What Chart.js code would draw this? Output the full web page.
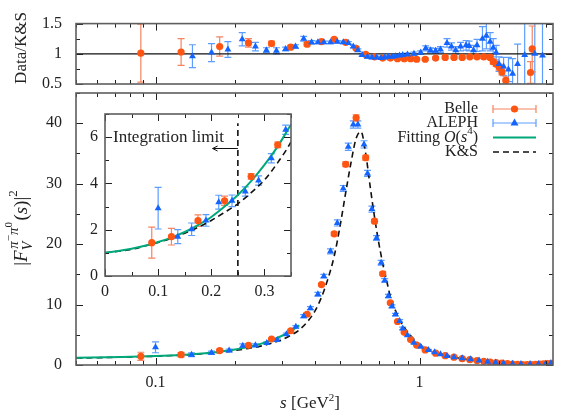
<!DOCTYPE html>
<html>
<head>
<meta charset="utf-8">
<script src="https://cdn.jsdelivr.net/npm/chart.js@4.4.1/dist/chart.umd.min.js"></script>
<style>
  html, body { margin: 0; padding: 0; background: #fff; }
  #wrap { position: relative; width: 582px; height: 419px; overflow: hidden; }
  #wrap canvas { position: absolute; left: 0; top: 0; }
</style>
</head>
<body>
<div id="wrap">
  <canvas id="ratioChart" width="582" height="419"></canvas>
  <canvas id="mainChart" width="582" height="419"></canvas>
  <canvas id="insetChart" width="582" height="419"></canvas>
</div>
<script>
// Values (s in GeV^2)
const belleS = [0.088, 0.125, 0.175, 0.225, 0.275, 0.325, 0.375, 0.425, 0.475, 0.525, 0.575, 0.625, 0.675, 0.725, 0.775, 0.825, 0.875, 0.925, 0.975, 1.05, 1.15, 1.25, 1.35, 1.45, 1.55, 1.65, 1.75, 1.85, 1.95, 2.05, 2.15, 2.25, 2.35, 2.45, 2.55, 2.65, 2.75, 2.85, 2.95, 3.05, 3.15];
const belleF = [1.44, 1.70, 2.39, 3.25, 4.30, 5.67, 8.4, 13.3, 21.7, 33.2, 40.9, 34.3, 23.8, 15.1, 10.3, 7.2, 5.4, 4.2, 3.3, 2.5, 1.95, 1.55, 1.3, 1.05, 0.88, 0.74, 0.6, 0.5, 0.4, 0.3, 0.22, 0.15, 0.1, 0.08, 0.07, 0.08, 0.1, 0.13, 0.17, 0.22, 0.28];
const belleErr = [0.67, 0.36, 0.25, 0.2, 0.12, 0.12, 0.15, 0.2, 0.3, 0.4, 0.5, 0.4, 0.3, 0.25, 0.2, 0.15, 0.12, 0.1, 0.08, 0.06, 0.06, 0.06, 0.06, 0.06, 0.06, 0.06, 0.06, 0.06, 0.06, 0.06, 0.06, 0.06, 0.06, 0.06, 0.06, 0.06, 0.06, 0.06, 0.06, 0.06, 0.06];

const alephS = [0.100, 0.137, 0.163, 0.190, 0.214, 0.239, 0.264, 0.289, 0.313, 0.340, 0.364, 0.386, 0.412, 0.434, 0.460, 0.488, 0.514, 0.537, 0.561, 0.584, 0.616, 0.635, 0.660, 0.687, 0.715, 0.738, 0.762, 0.786, 0.810, 0.840, 0.863, 0.900, 0.952, 1.01, 1.08, 1.14, 1.20, 1.27, 1.35, 1.45, 1.56, 1.68, 1.81, 1.94, 2.08, 2.25, 2.42, 2.62, 2.82, 3.0, 3.14];
const alephF = [2.93, 1.70, 2.02, 2.40, 3.19, 3.25, 3.65, 4.13, 5.09, 6.32, 8.07, 9.4, 11.7, 14.7, 18.8, 23.5, 29.2, 36.1, 39.8, 39.8, 36.5, 31.7, 25.8, 21.0, 16.9, 14.0, 11.4, 9.7, 8.35, 7.3, 6.05, 4.94, 3.67, 3.0, 2.47, 2.1, 1.76, 1.5, 1.27, 1.1, 0.94, 0.75, 0.55, 0.4, 0.28, 0.2, 0.16, 0.15, 0.16, 0.2, 0.28];
const alephErr = [0.9, 0.3, 0.27, 0.25, 0.3, 0.25, 0.2, 0.2, 0.2, 0.2, 0.25, 0.25, 0.3, 0.3, 0.4, 0.5, 0.5, 0.6, 0.6, 0.6, 0.6, 0.5, 0.5, 0.4, 0.4, 0.3, 0.3, 0.25, 0.2, 0.2, 0.2, 0.15, 0.12, 0.1, 0.1, 0.1, 0.08, 0.08, 0.07, 0.07, 0.06, 0.06, 0.05, 0.05, 0.05, 0.04, 0.04, 0.04, 0.04, 0.05, 0.05];

// O(s^4) fit, only drawn up to the integration region
const fitS = [0, 0.025, 0.05, 0.075, 0.1, 0.125, 0.15, 0.175, 0.2, 0.225, 0.25, 0.275, 0.3, 0.325, 0.35];
const fitF = [1.0, 1.08, 1.18, 1.31, 1.47, 1.66, 1.9, 2.2, 2.55, 3.0, 3.5, 4.1, 4.8, 5.6, 6.55];

// K&S curve
const ksS = [0, 0.025, 0.05, 0.075, 0.1, 0.125, 0.15, 0.175, 0.2, 0.225, 0.25, 0.275, 0.3, 0.325, 0.35, 0.375, 0.4, 0.425, 0.45, 0.475, 0.5, 0.525, 0.55, 0.575, 0.6, 0.625, 0.65, 0.675, 0.7, 0.725, 0.75, 0.775, 0.8, 0.85, 0.9, 0.95, 1.0, 1.1, 1.2, 1.3, 1.4, 1.5, 1.6, 1.8, 2.0, 2.2, 2.4, 2.6, 2.8, 3.0, 3.2];
const ksF = [1.0, 1.07, 1.15, 1.3, 1.45, 1.63, 1.85, 2.1, 2.4, 2.75, 3.12, 3.6, 4.15, 4.9, 5.8, 7.1, 8.8, 11.2, 14.3, 18.0, 23.0, 28.5, 33.5, 37.5, 38.6, 35.0, 29.5, 24.5, 20.3, 16.8, 14.0, 11.3, 9.6, 7.1, 5.5, 4.3, 3.45, 2.4, 1.8, 1.4, 1.15, 0.95, 0.8, 0.55, 0.35, 0.2, 0.12, 0.1, 0.12, 0.16, 0.2];

// Data / K&S
const belleRatioS = [0.088, 0.125, 0.175, 0.225, 0.275, 0.325, 0.375, 0.425, 0.475, 0.525, 0.575, 0.625, 0.675, 0.725, 0.775, 0.825, 0.875, 0.925, 0.975, 1.05, 1.15, 1.25, 1.35, 1.45, 1.55, 1.65, 1.75, 1.85, 1.9, 1.95, 2.0, 2.05, 2.12, 2.63, 2.67];
const belleRatio = [1.01, 1.03, 1.12, 1.18, 1.17, 1.11, 1.16, 1.20, 1.24, 1.19, 1.09, 0.99, 0.95, 0.93, 0.93, 0.92, 0.92, 0.92, 0.91, 0.91, 0.93, 0.94, 0.94, 0.94, 0.95, 0.95, 0.95, 0.94, 0.87, 0.83, 0.78, 0.70, 0.56, 0.69, 1.08];
const belleRatioErr = [0.48, 0.22, 0.16, 0.07, 0.04, 0.03, 0.03, 0.02, 0.02, 0.02, 0.02, 0.02, 0.02, 0.02, 0.02, 0.02, 0.02, 0.02, 0.02, 0.02, 0.02, 0.02, 0.02, 0.02, 0.02, 0.02, 0.03, 0.03, 0.04, 0.04, 0.05, 0.05, 0.06, 0.18, 0.38];

const alephRatioS = [0.138, 0.163, 0.188, 0.213, 0.239, 0.263, 0.287, 0.311, 0.339, 0.364, 0.39, 0.412, 0.434, 0.46, 0.488, 0.514, 0.537, 0.561, 0.584, 0.606, 0.635, 0.66, 0.687, 0.715, 0.738, 0.762, 0.786, 0.81, 0.84, 0.863, 0.9, 0.952, 1.01, 1.055, 1.1, 1.15, 1.2, 1.27, 1.32, 1.37, 1.43, 1.5, 1.54, 1.6, 1.65, 1.73, 1.79, 1.85, 1.9, 1.95, 2.0, 2.08, 2.17, 2.25, 2.35, 2.5, 2.73, 2.92];
const alephRatio = [0.96, 1.02, 1.07, 1.24, 1.12, 1.06, 1.05, 1.08, 1.12, 1.25, 1.19, 1.19, 1.19, 1.19, 1.2, 1.19, 1.18, 1.12, 1.06, 0.98, 0.95, 0.94, 0.94, 0.93, 0.94, 0.95, 0.95, 0.96, 0.97, 0.98, 0.99, 1.0, 1.02, 1.09, 1.06, 1.05, 1.07, 1.18, 1.12, 1.06, 1.12, 1.14, 1.13, 1.06, 1.14, 1.25, 1.3, 1.2, 1.1, 1.02, 0.83, 0.79, 0.74, 0.67, 0.83, 0.98, 1.0, 0.97];
const alephRatioErr = [0.19, 0.15, 0.13, 0.11, 0.07, 0.04, 0.05, 0.03, 0.03, 0.04, 0.03, 0.02, 0.02, 0.02, 0.02, 0.02, 0.02, 0.02, 0.02, 0.02, 0.02, 0.02, 0.02, 0.02, 0.02, 0.02, 0.02, 0.02, 0.02, 0.02, 0.02, 0.03, 0.03, 0.04, 0.04, 0.04, 0.05, 0.07, 0.06, 0.06, 0.07, 0.08, 0.08, 0.08, 0.1, 0.2, 0.22, 0.15, 0.15, 0.12, 0.12, 0.15, 0.2, 0.25, 0.33, 0.6, 1.0, 0.8];

// Axes
const sMin = 0.05, sMax = 3.2;
const logTicks = [0.05, 0.06, 0.07, 0.08, 0.09, 0.1, 0.2, 0.3, 0.4, 0.5, 0.6, 0.7, 0.8, 0.9, 1, 2, 3];
const logLabels = [0.1, 1];
const ratioTicks = [0.5, 0.75, 1, 1.25, 1.5];
const ratioLabels = [0.5, 1, 1.5];
const mainYTicks = [0, 5, 10, 15, 20, 25, 30, 35, 40, 45];
const mainYLabels = [0, 10, 20, 30, 40];
const insetXTicks = [0, 0.05, 0.1, 0.15, 0.2, 0.25, 0.3, 0.35];
const insetXLabels = [0, 0.1, 0.2, 0.3];
const insetYTicks = [0, 1, 2, 3, 4, 5, 6, 7];
const insetYLabels = [0, 2, 4, 6];
const cutS = 0.25, cutTop = 6.6;

const ORANGE = '#ff5512', ORANGE_ERR = '#f58460';
const BLUE = '#1464ff', BLUE_ERR = '#5c9dff';
const GREEN = '#00a87a';
const SERIF = "'Liberation Serif', 'Times New Roman', serif";

Chart.defaults.font.family = SERIF;
Chart.defaults.font.size = 16;
Chart.defaults.color = '#222';

const pts = (xs, ys) => xs.map((x, i) => ({ x, y: ys[i] }));
const positive = arr => arr.filter(p => p.x > 0);

// vertical error bars under the markers
const errorBars = {
    id: 'errorBars',
    beforeDatasetsDraw(chart) {
        const { ctx, chartArea: a } = chart;
        const xs = chart.scales.x, ys = chart.scales.y;
        ctx.save();
        ctx.beginPath();
        ctx.rect(a.left, a.top, a.right - a.left, a.bottom - a.top);
        ctx.clip();
        chart.data.datasets.forEach(ds => {
            if (!ds.errors) return;
            ctx.strokeStyle = ds.errorColor;
            ctx.lineWidth = 1.2;
            ctx.beginPath();
            ds.data.forEach((p, j) => {
                const e = ds.errors[j];
                const px = xs.getPixelForValue(p.x);
                const top = ys.getPixelForValue(p.y + e);
                const bot = ys.getPixelForValue(p.y - e);
                ctx.moveTo(px, top); ctx.lineTo(px, bot);
                ctx.moveTo(px - 3.5, top); ctx.lineTo(px + 3.5, top);
                ctx.moveTo(px - 3.5, bot); ctx.lineTo(px + 3.5, bot);
            });
            ctx.stroke();
        });
        ctx.restore();
    }
};

// gnuplot-like box with inward ticks on all four sides
function framePlugin(xTicks, xMajor, yTicks, yMajor) {
    return {
        id: 'frame',
        afterDatasetsDraw(chart) {
            const { ctx, chartArea: a } = chart;
            const xs = chart.scales.x, ys = chart.scales.y;
            ctx.save();
            ctx.strokeStyle = '#222';
            ctx.lineWidth = 1;
            ctx.beginPath();
            xTicks.forEach(v => {
                const px = Math.round(xs.getPixelForValue(v)) + 0.5;
                const len = xMajor.includes(v) ? 7 : 4;
                ctx.moveTo(px, a.bottom); ctx.lineTo(px, a.bottom - len);
                ctx.moveTo(px, a.top); ctx.lineTo(px, a.top + len);
            });
            yTicks.forEach(v => {
                const py = Math.round(ys.getPixelForValue(v)) + 0.5;
                const len = yMajor.includes(v) ? 7 : 4;
                ctx.moveTo(a.left, py); ctx.lineTo(a.left + len, py);
                ctx.moveTo(a.right, py); ctx.lineTo(a.right - len, py);
            });
            ctx.stroke();
            ctx.strokeStyle = '#5e5e5e';
            ctx.lineWidth = 1.6;
            ctx.strokeRect(a.left, a.top, a.right - a.left, a.bottom - a.top);
            ctx.restore();
        }
    };
}

// draws [text, font, dy] pieces one after another, returns width
function runText(ctx, parts, x, y, draw) {
    let cx = x;
    parts.forEach(([t, f, dy]) => {
        ctx.font = f;
        if (draw) ctx.fillText(t, cx, y + (dy || 0));
        cx += ctx.measureText(t).width;
    });
    return cx - x;
}

function font(size, italic) {
    return (italic ? 'italic ' : '') + size + 'px ' + SERIF;
}

function hiddenGrid() {
    return { grid: { display: false, drawTicks: false }, border: { display: false } };
}

function logAxis(height, showLabels) {
    return {
        type: 'logarithmic', min: sMin, max: sMax,
        ...hiddenGrid(),
        afterBuildTicks: sc => { sc.ticks = logTicks.map(v => ({ value: v })); },
        afterFit: sc => { sc.height = height; },
        ticks: {
            display: showLabels, autoSkip: false, maxRotation: 0, padding: 8,
            callback: v => logLabels.includes(v) ? String(v) : ''
        }
    };
}

function linAxis(min, max, ticks, labels, width, pad) {
    return {
        type: 'linear', min: min, max: max,
        ...hiddenGrid(),
        afterBuildTicks: sc => { sc.ticks = ticks.map(v => ({ value: v })); },
        afterFit: sc => { sc.width = width; },
        ticks: { autoSkip: false, padding: pad, callback: v => labels.includes(v) ? String(v) : '' }
    };
}

const baseOptions = {
    responsive: false,
    animation: false,
    events: [],
    plugins: { legend: { display: false }, tooltip: { enabled: false } }
};

// ---- ratio panel ----
const ratioTitle = {
    id: 'ratioTitle',
    afterDraw(chart) {
        const ctx = chart.ctx;
        ctx.save();
        ctx.fillStyle = '#222';
        ctx.textBaseline = 'middle';
        ctx.textAlign = 'center';
        ctx.translate(22, 48);
        ctx.rotate(-Math.PI / 2);
        ctx.font = font(17);
        ctx.fillText('Data/K&S', 0, 0);
        ctx.restore();
    }
};

new Chart(document.getElementById('ratioChart'), {
    type: 'scatter',
    data: {
        datasets: [
            { data: pts(alephRatioS, alephRatio), errors: alephRatioErr, errorColor: BLUE_ERR,
              pointStyle: 'triangle', pointRadius: 4, backgroundColor: BLUE, borderColor: BLUE, borderWidth: 0, clip: 0 },
            { data: pts(belleRatioS, belleRatio), errors: belleRatioErr, errorColor: ORANGE_ERR,
              pointStyle: 'circle', pointRadius: 3.6, backgroundColor: ORANGE, borderColor: ORANGE, borderWidth: 0, clip: 0 },
            { data: [{ x: sMin, y: 1 }, { x: sMax, y: 1 }], showLine: true, pointRadius: 0,
              borderColor: '#111', borderWidth: 1.2, clip: 0 }
        ]
    },
    options: {
        ...baseOptions,
        layout: { padding: { top: 12, right: 29, bottom: 419 - 84, left: 0 } },
        scales: {
            x: logAxis(0, false),
            y: linAxis(0.5, 1.5, ratioTicks, ratioLabels, 76, 14)
        }
    },
    plugins: [errorBars, framePlugin(logTicks, logLabels, ratioTicks, ratioLabels), ratioTitle]
});

// ---- main panel ----
const mainDecor = {
    id: 'mainDecor',
    afterDraw(chart) {
        const ctx = chart.ctx;
        ctx.save();
        ctx.fillStyle = '#222';
        ctx.textBaseline = 'middle';

        // legend (text right aligned, sample on the right)
        const textRight = 478, x0 = 493, x1 = 536, xm = (x0 + x1) / 2;
        const rows = [109, 123, 137.5, 152];
        const labels = [
            [['Belle', font(16)]],
            [['ALEPH', font(16)]],
            [['Fitting ', font(16)], ['O', font(16, true)], ['(', font(16)], ['s', font(16, true)], ['4', font(11), -6], [')', font(16)]],
            [['K&S', font(16)]]
        ];
        labels.forEach((parts, i) => {
            const w = runText(ctx, parts, 0, 0, false);
            runText(ctx, parts, textRight - w, rows[i], true);
        });
        // error-bar samples
        [[ORANGE_ERR, rows[0]], [BLUE_ERR, rows[1]]].forEach(([c, y]) => {
            ctx.strokeStyle = c;
            ctx.lineWidth = 1.2;
            ctx.beginPath();
            ctx.moveTo(x0, y); ctx.lineTo(x1, y);
            ctx.moveTo(x0, y - 4); ctx.lineTo(x0, y + 4);
            ctx.moveTo(x1, y - 4); ctx.lineTo(x1, y + 4);
            ctx.stroke();
        });
        ctx.fillStyle = ORANGE;
        ctx.beginPath();
        ctx.arc(xm, rows[0], 3.6, 0, Math.PI * 2);
        ctx.fill();
        ctx.fillStyle = BLUE;
        ctx.beginPath();
        ctx.moveTo(xm, rows[1] - 4.5);
        ctx.lineTo(xm + 4, rows[1] + 2.5);
        ctx.lineTo(xm - 4, rows[1] + 2.5);
        ctx.closePath();
        ctx.fill();
        ctx.strokeStyle = GREEN;
        ctx.lineWidth = 2;
        ctx.beginPath();
        ctx.moveTo(x0, rows[2]); ctx.lineTo(x1, rows[2]);
        ctx.stroke();
        ctx.strokeStyle = '#111';
        ctx.lineWidth = 1.6;
        ctx.setLineDash([6, 4]);
        ctx.beginPath();
        ctx.moveTo(x0, rows[3]); ctx.lineTo(x1, rows[3]);
        ctx.stroke();
        ctx.setLineDash([]);

        // x title
        ctx.fillStyle = '#222';
        const xt = [['s', font(17, true)], [' [GeV', font(17)], ['2', font(11), -6], [']', font(17)]];
        const xw = runText(ctx, xt, 0, 0, false);
        runText(ctx, xt, 310 - xw / 2, 404, true);

        // y title |F_V^{pi- pi0}(s)|^2, rotated
        ctx.translate(22, 228);
        ctx.rotate(-Math.PI / 2);
        const head = [['|', font(19)], ['F', font(19, true)]];
        const sub = [['V', font(14, true), 6]];
        const sup = [['π', font(15, true), -8], ['−', font(11), -13], ['π', font(15, true), -8], ['0', font(11), -13]];
        const tail = [['(', font(19)], ['s', font(19, true)], [')', font(19)], ['|', font(19)], ['2', font(13), -8]];
        const wh = runText(ctx, head, 0, 0, false);
        const ws = Math.max(runText(ctx, sub, 0, 0, false), runText(ctx, sup, 0, 0, false));
        const wt = runText(ctx, tail, 0, 0, false);
        let cx = -(wh + ws + wt + 3) / 2;
        runText(ctx, head, cx, 0, true);
        cx += wh;
        runText(ctx, sub, cx, 0, true);
        runText(ctx, sup, cx + 1.5, 0, true);
        cx += ws + 3;
        runText(ctx, tail, cx, 0, true);
        ctx.restore();
    }
};

new Chart(document.getElementById('mainChart'), {
    type: 'scatter',
    data: {
        datasets: [
            { data: pts(alephS, alephF), errors: alephErr, errorColor: BLUE_ERR,
              pointStyle: 'triangle', pointRadius: 4, backgroundColor: BLUE, borderColor: BLUE, borderWidth: 0, clip: 0 },
            { data: pts(belleS, belleF), errors: belleErr, errorColor: ORANGE_ERR,
              pointStyle: 'circle', pointRadius: 3.6, backgroundColor: ORANGE, borderColor: ORANGE, borderWidth: 0, clip: 0 },
            { data: positive(pts(fitS, fitF)), showLine: true, pointRadius: 0, borderColor: GREEN, borderWidth: 2,
              tension: 0.3, cubicInterpolationMode: 'monotone', clip: 0 },
            { data: positive(pts(ksS, ksF)), showLine: true, pointRadius: 0, borderColor: '#111', borderWidth: 1.6,
              borderDash: [6, 4], tension: 0.3, cubicInterpolationMode: 'monotone', clip: 0 }
        ]
    },
    options: {
        ...baseOptions,
        layout: { padding: { top: 93, right: 29, bottom: 0, left: 0 } },
        scales: {
            x: logAxis(54, true),
            y: linAxis(0, 45, mainYTicks, mainYLabels, 76, 14)
        }
    },
    plugins: [errorBars, framePlugin(logTicks, logLabels, mainYTicks, mainYLabels), mainDecor]
});

// ---- inset ----
const insetDecor = {
    id: 'insetDecor',
    beforeDraw(chart) {
        const { ctx, chartArea: a } = chart;
        ctx.save();
        ctx.fillStyle = '#fff';
        ctx.fillRect(a.left, a.top, a.right - a.left, a.bottom - a.top);
        ctx.restore();
    },
    afterDraw(chart) {
        const ctx = chart.ctx;
        const xs = chart.scales.x, ys = chart.scales.y;
        ctx.save();
        ctx.fillStyle = '#222';
        ctx.textBaseline = 'middle';
        ctx.textAlign = 'left';
        ctx.font = font(17);
        ctx.fillText('Integration limit', xs.getPixelForValue(0.015), ys.getPixelForValue(6.0));
        const ay = Math.round(ys.getPixelForValue(5.55)) + 0.5;
        const ax0 = xs.getPixelForValue(cutS), ax1 = xs.getPixelForValue(0.2025);
        ctx.strokeStyle = '#111';
        ctx.lineWidth = 1;
        ctx.beginPath();
        ctx.moveTo(ax0, ay); ctx.lineTo(ax1, ay);
        ctx.moveTo(ax1 + 5, ay - 2.5); ctx.lineTo(ax1, ay); ctx.lineTo(ax1 + 5, ay + 2.5);
        ctx.stroke();
        ctx.restore();
    }
};

new Chart(document.getElementById('insetChart'), {
    type: 'scatter',
    data: {
        datasets: [
            { data: pts(alephS, alephF), errors: alephErr, errorColor: BLUE_ERR,
              pointStyle: 'triangle', pointRadius: 4, backgroundColor: BLUE, borderColor: BLUE, borderWidth: 0, clip: 0 },
            { data: pts(belleS, belleF), errors: belleErr, errorColor: ORANGE_ERR,
              pointStyle: 'circle', pointRadius: 3.6, backgroundColor: ORANGE, borderColor: ORANGE, borderWidth: 0, clip: 0 },
            { data: pts(fitS, fitF), showLine: true, pointRadius: 0, borderColor: GREEN, borderWidth: 2,
              tension: 0.3, cubicInterpolationMode: 'monotone', clip: 0 },
            { data: pts(ksS, ksF), showLine: true, pointRadius: 0, borderColor: '#111', borderWidth: 1.6,
              borderDash: [6, 4], tension: 0.3, cubicInterpolationMode: 'monotone', clip: 0 },
            { data: [{ x: cutS, y: 0 }, { x: cutS, y: cutTop }], showLine: true, pointRadius: 0,
              borderColor: '#111', borderWidth: 1.6, borderDash: [6, 4], clip: 0 }
        ]
    },
    options: {
        ...baseOptions,
        layout: { padding: { top: 114, right: 582 - 291, bottom: 0, left: 0 } },
        scales: {
            x: {
                type: 'linear', min: 0, max: 0.35,
                ...hiddenGrid(),
                afterBuildTicks: sc => { sc.ticks = insetXTicks.map(v => ({ value: v })); },
                afterFit: sc => { sc.height = 419 - 276; },
                ticks: { autoSkip: false, maxRotation: 0, padding: 6,
                         callback: v => insetXLabels.includes(v) ? String(v) : '' }
            },
            y: linAxis(0, 7, insetYTicks, insetYLabels, 105, 7)
        }
    },
    plugins: [insetDecor, errorBars, framePlugin(insetXTicks, insetXLabels, insetYTicks, insetYLabels)]
});
</script>
</body>
</html>
